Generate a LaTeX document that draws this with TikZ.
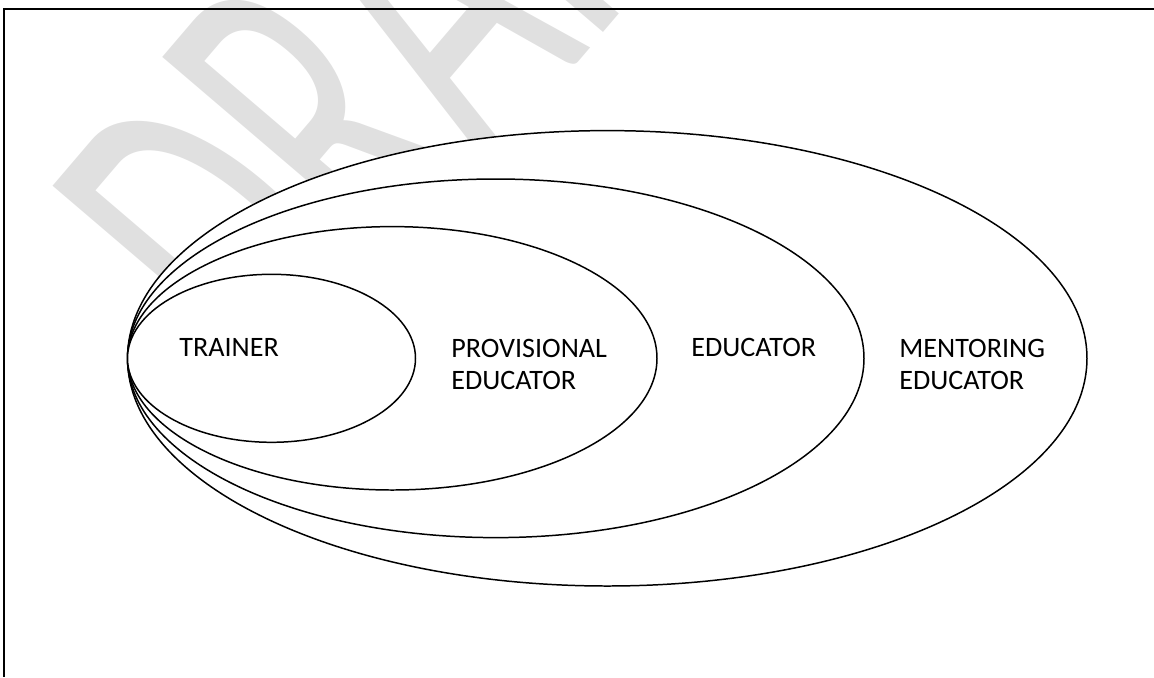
\documentclass[tikz,border=0pt]{standalone}
\usepackage{fontspec}
\setmainfont{Carlito}
\usetikzlibrary{calc}

\definecolor{wmgray}{RGB}{224,224,224}

\tikzset{
	ring/.style = {draw, line width=0.85pt, fill=white},
	lbl/.style = {anchor=base west, inner sep=0pt, align=left, font=\fontsize{16}{18.2}\selectfont},
	wmark/.style = {anchor=base west, inner sep=0pt, text=wmgray, font=\fontsize{283}{283}\selectfont, rotate=49.5, xscale=0.55}
}

\begin{document}
\begin{tikzpicture}[x=0.02cm, y=-0.02cm]
		%page area
		\useasboundingbox (0,0) rectangle (1154,677);
		\clip (0,0) rectangle (1154,677);
		
		%variables
		\def\cy{358.3};
		\def\lx{127.5};
		
		%watermark
		\node [wmark] (wm) at (283,408) {DRAFT};
		
		%frame
		\draw [line width=1.3pt] (1154,9) -- (4.3,9) -- (4.3,677);
		
		%centres of the rings
		\coordinate (cM) at ({\lx+479.75},\cy);
		\coordinate (cE) at ({\lx+368.25},\cy);
		\coordinate (cP) at ({\lx+264.75},\cy);
		\coordinate (cT) at ({\lx+144},\cy);
		
		%rings, outer first
		\draw [ring] (cM) ellipse [x radius=479.75, y radius=227.7];
		\draw [ring] (cE) ellipse [x radius=368.25, y radius=179.3];
		\draw [ring] (cP) ellipse [x radius=264.75, y radius=131.7];
		\draw [ring] (cT) ellipse [x radius=144, y radius=84];
		
		%labels (two-line ones sit on their last baseline)
		\node [lbl] (trainer) at (179,356.7) {TRAINER};
		\node [lbl] (prov) at (451,389) {PROVISIONAL\\EDUCATOR};
		\node [lbl] (edu) at (691,356.7) {EDUCATOR};
		\node [lbl] (ment) at (899,389) {MENTORING\\EDUCATOR};
	\end{tikzpicture}
\end{document}
